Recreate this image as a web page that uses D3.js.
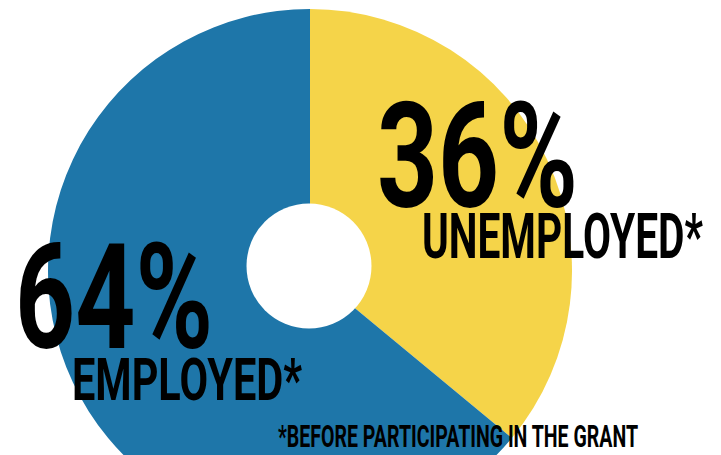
<!DOCTYPE html>
<html>
<head>
<meta charset="utf-8">
<script src="https://cdn.jsdelivr.net/npm/d3@7"></script>
<style>
  body { margin: 0; background: #fff; }
  svg { display: block; }
  text { font-family: Roboto, "Open Sans", sans-serif; font-weight: 700; fill: #000; }
</style>
</head>
<body>
<div id="chart"></div>
<script>
// data
var categories = ["UNEMPLOYED*", "EMPLOYED*"],
    values = [36, 64],
    colors = ["#f5d449", "#1e76a9"],
    footnote = "*BEFORE PARTICIPATING IN THE GRANT";

// constants
var width = 721,
    height = 455,
    cx = 310, cy = 271,
    radius = 262,
    hole = {x: 309, y: 266, r: 62.5};

// where each label sits: big number and name below it
var labelPos = [
    {x: 377, y: 207, w: 201, size: 146, nx: 422, ny: 258, nw: 281, nsize: 63},
    {x: 15, y: 348, w: 198, size: 147, nx: 72, ny: 400, nw: 230, nsize: 59}
];

var svg = d3.select("#chart")
    .append("svg")
    .attr("width", width)
    .attr("height", height);

var pie = d3.pie().sort(null).value(function (d) { return d; });
var arc = d3.arc().innerRadius(0).outerRadius(radius);

var slices = pie(values);

svg.append("g")
    .attr("transform", "translate(" + cx + "," + cy + ")")
    .selectAll("path")
    .data(slices)
    .enter()
    .append("path")
    .attr("d", arc)
    .attr("fill", function (d, i) { return colors[i]; });

svg.append("circle")
    .attr("cx", hole.x)
    .attr("cy", hole.y)
    .attr("r", hole.r)
    .attr("fill", "#fff");

var labels = svg.selectAll("g.label")
    .data(slices)
    .enter()
    .append("g")
    .attr("class", "label");

labels.append("text")
    .attr("x", function (d, i) { return labelPos[i].x; })
    .attr("y", function (d, i) { return labelPos[i].y; })
    .attr("font-size", function (d, i) { return labelPos[i].size; })
    .attr("textLength", function (d, i) { return labelPos[i].w; })
    .attr("lengthAdjust", "spacingAndGlyphs")
    .text(function (d) { return d.value + "%"; });

labels.append("text")
    .attr("x", function (d, i) { return labelPos[i].nx; })
    .attr("y", function (d, i) { return labelPos[i].ny; })
    .attr("font-size", function (d, i) { return labelPos[i].nsize; })
    .attr("textLength", function (d, i) { return labelPos[i].nw; })
    .attr("lengthAdjust", "spacingAndGlyphs")
    .text(function (d, i) { return categories[i]; });

svg.append("text")
    .attr("x", 278)
    .attr("y", 447)
    .attr("font-size", 31)
    .attr("textLength", 360)
    .attr("lengthAdjust", "spacingAndGlyphs")
    .text(footnote);
</script>
</body>
</html>
